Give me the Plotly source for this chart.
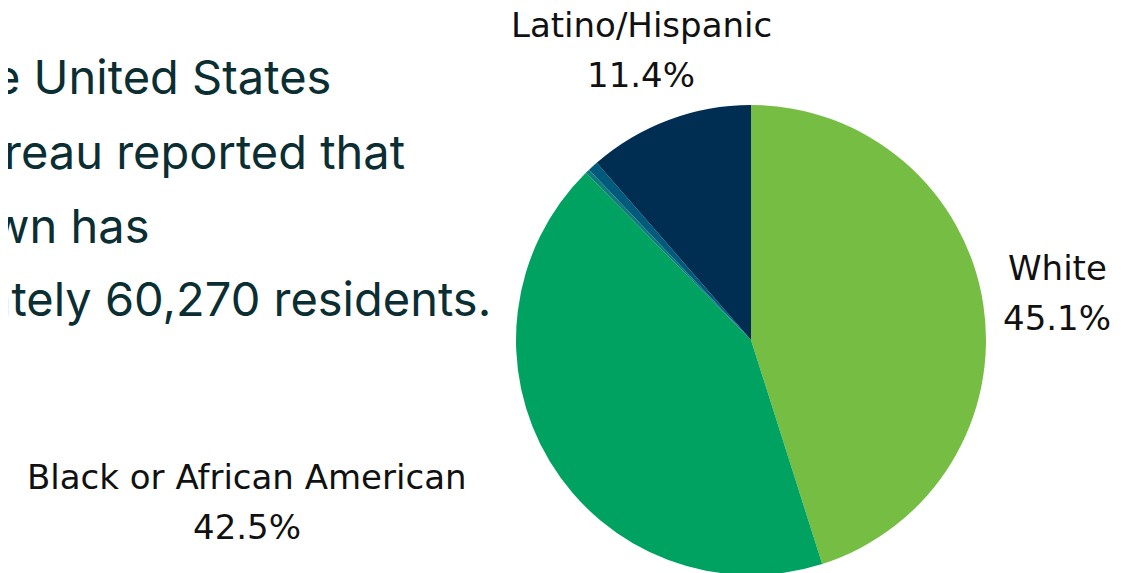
import plotly.graph_objects as go

W, H = 1130, 573
OFF = 8  # page body margin in the browser

# Data
categories = ["White", "Black or African American", "Two or More Races", "Asian", "Latino/Hispanic"]
values = [45.1, 42.5, 0.3, 0.7, 11.4]
colors = ["#76bd43", "#00a262", "#0f7b7a", "#005a7c", "#002d52"]
shown_labels = ["White", "Black or African American", "Latino/Hispanic"]
paragraph_lines = ["e United States", "reau reported that", "wn has", "ately 60,270 residents."]

# Pie geometry (target pixels)
cx, cy, r = 751 - OFF, 340 - OFF, 235

fig = go.Figure(go.Pie(
    labels=categories,
    values=values,
    marker=dict(colors=colors, line=dict(width=0)),
    sort=False,
    direction="clockwise",
    rotation=0,
    textinfo="none",
    hoverinfo="label+percent",
    showlegend=False,
    domain=dict(x=[(cx - r) / W, (cx + r) / W], y=[max(0, (H - cy - r) / H), (H - cy + r) / H]),
))

def px_x(x):
    return (x - OFF) / W

def px_y(y):
    return 1 - (y - OFF) / H

annotations = []
label_pos = {
    "White": (1057, 268, 318),
    "Black or African American": (247, 477, 527),
    "Latino/Hispanic": (641, 25, 75),
}
total = sum(values)
for name in shown_labels:
    i = categories.index(name)
    x, y1, y2 = label_pos[name]
    pct = f"{values[i] / total * 100:.1f}%"
    for txt, yy in ((name, y1), (pct, y2)):
        annotations.append(dict(
            x=px_x(x), y=px_y(yy), xref="paper", yref="paper",
            text=txt, showarrow=False, xanchor="center", yanchor="middle",
            font=dict(family="DejaVu Sans, sans-serif", size=34, color="#111111"),
        ))

para_left = [-9, 2, -11, -17]
para_y = [77, 151, 226, 298]
for txt, xl, yy in zip(paragraph_lines, para_left, para_y):
    annotations.append(dict(
        x=px_x(xl), y=px_y(yy), xref="paper", yref="paper",
        text=txt, showarrow=False, xanchor="left", yanchor="middle",
        font=dict(family="Inter, Noto Sans, sans-serif", size=47, color="#0b2e33"),
    ))

fig.update_layout(
    width=W, height=H,
    margin=dict(l=0, r=0, t=0, b=0),
    paper_bgcolor="white",
    plot_bgcolor="white",
    annotations=annotations,
)

fig.write_html("out.html")
